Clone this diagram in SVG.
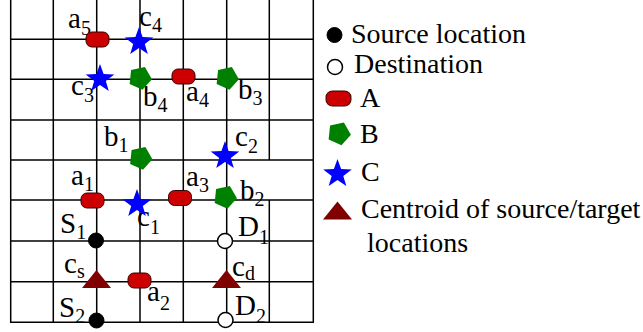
<svg xmlns="http://www.w3.org/2000/svg" xmlns:xlink="http://www.w3.org/1999/xlink" width="643" height="332" viewBox="0 0 643 332">
<style>
.grid line{stroke:#000;stroke-width:1.5}
.lbl{font-family:"Liberation Serif","Times New Roman",serif;font-size:29px;fill:#000}
.sub{font-size:20px}
.leg{font-family:"Liberation Serif","Times New Roman",serif;font-size:28px;fill:#000}
.a{fill:#cc0000;stroke:#3a0000;stroke-width:1}
.b{fill:#008000}
.c{fill:#0000ff}
.t{fill:#800000}
.src{fill:#000;stroke:#000;stroke-width:1}
.dst{fill:#fff;stroke:#000;stroke-width:1.5}
</style>
<defs>
<rect id="rA" x="-11.5" y="-7.5" width="23" height="15" rx="6" ry="6"/>
<polygon id="pB" points="0,12 -11.4,3.7 -7.05,-9.7 7.05,-9.7 11.4,3.7" transform="rotate(-12)"/>
<polygon id="sC" points="0,-15 3.6,-4.9 14.3,-4.6 5.8,1.9 8.8,12.1 0,6.1 -8.8,12.1 -5.8,1.9 -14.3,-4.6 -3.6,-4.9"/>
<polygon id="tT" points="0,-9 14.5,9 -14.5,9"/>
</defs>
<rect width="643" height="332" fill="#fff"/>
<g id="connectors" class="grid">
<line x1="10.7" y1="0" x2="10.7" y2="322.3"/>
<line x1="53.3" y1="0" x2="53.3" y2="322.3"/>
<line x1="96.7" y1="0" x2="96.7" y2="322.3"/>
<line x1="140" y1="0" x2="140" y2="322.3"/>
<line x1="183.3" y1="0" x2="183.3" y2="322.3"/>
<line x1="226.7" y1="0" x2="226.7" y2="322.3"/>
<line x1="269.3" y1="0" x2="269.3" y2="160"/>
<line x1="269.3" y1="200" x2="269.3" y2="322.3"/>
<line x1="313.3" y1="0" x2="313.3" y2="322.3"/>
<line x1="10" y1="39.3" x2="314" y2="39.3"/>
<line x1="10" y1="79.3" x2="314" y2="79.3"/>
<line x1="10" y1="120" x2="314" y2="120"/>
<line x1="10" y1="160" x2="314" y2="160"/>
<line x1="10" y1="200" x2="314" y2="200"/>
<line x1="10" y1="241" x2="314" y2="241"/>
<line x1="10" y1="281.7" x2="314" y2="281.7"/>
<line x1="10" y1="322.3" x2="314" y2="322.3"/>
</g>
<g id="a5"><text class="lbl" x="68" y="28">a<tspan class="sub" dy="7">5</tspan></text><use xlink:href="#rA" href="#rA" class="a" x="97.5" y="39.5"/></g>
<g id="c4"><text class="lbl" x="139" y="26">c<tspan class="sub" dy="6">4</tspan></text><use xlink:href="#sC" href="#sC" class="c" x="139" y="42"/></g>
<g id="c3"><text class="lbl" x="71" y="95">c<tspan class="sub" dy="7">3</tspan></text><use xlink:href="#sC" href="#sC" class="c" x="100" y="79"/></g>
<g id="b4"><text class="lbl" x="143" y="106">b<tspan class="sub" dy="6">4</tspan></text><use xlink:href="#pB" href="#pB" class="b" x="140" y="78"/></g>
<g id="a4"><text class="lbl" x="186" y="101">a<tspan class="sub" dy="6">4</tspan></text><use xlink:href="#rA" href="#rA" class="a" x="183.5" y="76.5"/></g>
<g id="b3"><text class="lbl" x="238" y="99">b<tspan class="sub" dy="6">3</tspan></text><use xlink:href="#pB" href="#pB" class="b" x="227" y="78"/></g>
<g id="b1"><text class="lbl" x="104" y="146">b<tspan class="sub" dy="6">1</tspan></text><use xlink:href="#pB" href="#pB" class="b" x="140.5" y="158"/></g>
<g id="c2"><text class="lbl" x="235" y="146">c<tspan class="sub" dy="7">2</tspan></text><use xlink:href="#sC" href="#sC" class="c" x="225" y="156"/></g>
<g id="a1"><text class="lbl" x="71" y="185">a<tspan class="sub" dy="6">1</tspan></text><use xlink:href="#rA" href="#rA" class="a" x="92.5" y="200.5"/></g>
<g id="a3"><text class="lbl" x="186" y="186">a<tspan class="sub" dy="6">3</tspan></text><use xlink:href="#rA" href="#rA" class="a" x="180" y="198"/></g>
<g id="b2"><text class="lbl" x="240" y="200">b<tspan class="sub" dy="6">2</tspan></text><use xlink:href="#pB" href="#pB" class="b" x="225" y="197"/></g>
<g id="c1"><text class="lbl" x="137" y="226">c<tspan class="sub" dy="8">1</tspan></text><use xlink:href="#sC" href="#sC" class="c" x="137" y="204"/></g>
<g id="S1"><text class="lbl" x="60" y="233">S<tspan class="sub" dy="6">1</tspan></text><circle class="src" cx="96" cy="240.5" r="7.5"/></g>
<g id="D1"><text class="lbl" x="238" y="236">D<tspan class="sub" dy="8">1</tspan></text><circle class="dst" cx="225" cy="241" r="7.5"/></g>
<g id="cs"><text class="lbl" x="64" y="273">c<tspan class="sub" dy="5">s</tspan></text><use xlink:href="#tT" href="#tT" class="t" x="96.5" y="279"/></g>
<g id="a2"><text class="lbl" x="147" y="301">a<tspan class="sub" dy="9">2</tspan></text><use xlink:href="#rA" href="#rA" class="a" x="139.5" y="280.5"/></g>
<g id="cd"><text class="lbl" x="232" y="276">c<tspan class="sub" dy="4">d</tspan></text><use xlink:href="#tT" href="#tT" class="t" x="226.5" y="279"/></g>
<g id="S2"><text class="lbl" x="59" y="317">S<tspan class="sub" dy="6">2</tspan></text><circle class="src" cx="96.5" cy="320.5" r="7.5"/></g>
<g id="D2"><text class="lbl" x="235" y="315">D<tspan class="sub" dy="8">2</tspan></text><circle class="dst" cx="225.5" cy="320" r="7.5"/></g>
<g id="legend">
<circle class="src" cx="334.5" cy="35" r="7.5"/>
<text class="leg" x="351" y="43">Source location</text>
<circle class="dst" cx="335" cy="67" r="7.5"/>
<text class="leg" x="354" y="73">Destination</text>
<use xlink:href="#rA" href="#rA" class="a" x="338.5" y="98.5" transform="translate(338.5 98.5) scale(1.08 1) translate(-338.5 -98.5)"/>
<text class="leg" x="360" y="107">A</text>
<use xlink:href="#pB" href="#pB" class="b" x="339" y="133.5"/>
<text class="leg" x="360" y="143">B</text>
<use xlink:href="#sC" href="#sC" class="c" x="337.5" y="174"/>
<text class="leg" x="361" y="181">C</text>
<use xlink:href="#tT" href="#tT" class="t" x="337.5" y="210.5"/>
<text class="leg" x="361" y="218">Centroid of source/target</text>
<text class="leg" x="367" y="252">locations</text>
</g>
</svg>
